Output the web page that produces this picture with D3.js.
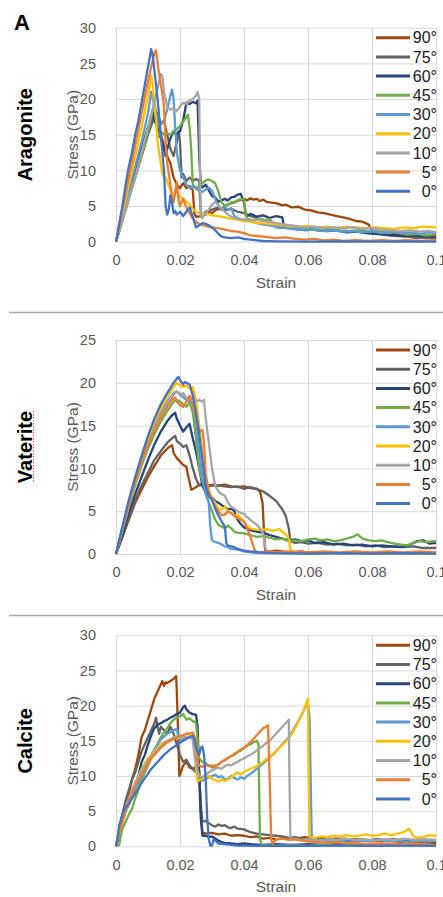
<!DOCTYPE html>
<html>
<head>
<meta charset="utf-8">
<script src="https://cdn.jsdelivr.net/npm/d3@7"></script>
<style>
  body { margin: 0; background: #fff; }
  svg { display: block; font-family: "Liberation Sans", Arial, sans-serif; }
</style>
</head>
<body>
<svg width="443" height="897"></svg>
<script>
// legend order, top to bottom (also draw order: 90° first, 0° last)
const angles = ["90°", "75°", "60°", "45°", "30°", "20°", "10°", "5°", "0°"];
const colors = ["#9E480E", "#636363", "#264478", "#70AD47", "#5B9BD5", "#FFC000", "#A5A5A5", "#ED7D31", "#4472C4"];
const xTicks = [0, 0.02, 0.04, 0.06, 0.08, 0.1];
const xTickLabels = ["0", "0.02", "0.04", "0.06", "0.08", "0.1"];
const panelNames = ["Aragonite", "Vaterite", "Calcite"];
const panelYMax = [30, 25, 30];

// ---- Aragonite ----
const ara90 = [[0,0],[0.002,3],[0.004,6.5],[0.006,9.5],[0.008,13],[0.010,16],[0.012,18],[0.013,17],[0.014,15],[0.015,13.5],[0.016,12],[0.017,11],[0.018,9],[0.019,8],[0.020,7.5],[0.021,8.2],[0.022,7.5],[0.023,7.8],[0.024,7.2],[0.0245,4],[0.025,3.5],[0.027,3.6],[0.028,3.8],[0.029,4.2],[0.030,4],[0.031,4.4],[0.032,4.6],[0.033,4.5],[0.034,5],[0.035,5.2],[0.036,5.4],[0.037,5.5],[0.038,5.7],[0.039,5.9],[0.040,6],[0.041,5.8],[0.042,6.1],[0.043,5.9],[0.044,6],[0.045,5.7],[0.046,5.9],[0.047,5.6],[0.048,5.5],[0.050,5.4],[0.052,5.1],[0.053,5.2],[0.055,4.8],[0.057,4.9],[0.059,4.5],[0.061,4.4],[0.063,4.1],[0.065,4.0],[0.067,3.8],[0.069,3.6],[0.071,3.4],[0.073,3.2],[0.075,2.9],[0.077,2.8],[0.078,2.6],[0.079,2.4],[0.080,1.6],[0.081,1.3],[0.083,1.2],[0.085,1.0],[0.087,1.1],[0.089,0.9],[0.091,0.8],[0.093,0.6],[0.095,0.7],[0.097,0.5],[0.1,0.6]];
const ara75 = [[0,0],[0.002,3],[0.004,6],[0.006,9],[0.008,12],[0.010,15],[0.012,17.5],[0.013,18],[0.014,16.5],[0.015,17],[0.016,15],[0.017,13],[0.018,12],[0.019,14],[0.0195,15.5],[0.020,14],[0.0205,9],[0.021,9.5],[0.022,8.5],[0.023,9],[0.024,8.5],[0.025,8.8],[0.026,8.6],[0.0265,4],[0.027,3.8],[0.028,4.2],[0.030,4.5],[0.032,4.8],[0.034,4.4],[0.036,4.6],[0.038,4.2],[0.040,4],[0.042,3.6],[0.044,3.3],[0.046,3],[0.048,2.8],[0.050,2.5],[0.052,2.3],[0.055,2],[0.058,1.8],[0.061,1.9],[0.064,1.6],[0.067,1.7],[0.070,1.5],[0.073,1.4],[0.076,1.5],[0.079,1.2],[0.082,1.1],[0.085,0.9],[0.088,0.8],[0.091,0.7],[0.094,0.5],[0.097,0.6],[0.1,0.4]];
const ara60 = [[0,0],[0.002,3.5],[0.004,7],[0.006,10],[0.008,13],[0.010,16],[0.0115,18.5],[0.012,17],[0.013,16],[0.014,14.5],[0.015,13],[0.0155,12],[0.016,13],[0.017,14.5],[0.018,15.5],[0.019,15],[0.020,15.5],[0.021,17],[0.022,19.5],[0.023,19.3],[0.024,19.6],[0.025,19.4],[0.0255,19.8],[0.026,12],[0.0265,8],[0.027,7.6],[0.028,8],[0.029,7.2],[0.030,6.4],[0.031,6.2],[0.032,5.6],[0.033,5.8],[0.034,6],[0.035,5.8],[0.036,6.2],[0.037,6.3],[0.038,6.6],[0.039,6.7],[0.040,5.5],[0.0405,4],[0.041,3.6],[0.042,3.9],[0.044,3.5],[0.046,3.7],[0.048,3.3],[0.050,3.6],[0.052,3.4],[0.0525,2],[0.054,1.9],[0.057,1.7],[0.060,1.8],[0.063,1.6],[0.066,1.5],[0.069,1.6],[0.072,1.3],[0.075,1.4],[0.078,1.2],[0.081,1.1],[0.084,1.0],[0.087,0.9],[0.090,0.8],[0.093,0.9],[0.096,0.7],[0.1,0.8]];
const ara45 = [[0,0],[0.002,3],[0.004,6],[0.006,9],[0.008,12],[0.010,15.5],[0.012,19.5],[0.0125,18],[0.013,14.7],[0.014,15.5],[0.015,15],[0.016,15.2],[0.017,15],[0.018,15.5],[0.019,15.8],[0.020,16.2],[0.021,16.8],[0.022,17.5],[0.0225,17.8],[0.023,16],[0.0235,13],[0.024,8],[0.025,7.5],[0.026,7.8],[0.027,8.2],[0.028,8.6],[0.029,8.7],[0.030,8.5],[0.031,8.2],[0.032,7],[0.033,5.5],[0.034,5],[0.035,5.2],[0.036,5.5],[0.037,5.6],[0.038,5.8],[0.039,6],[0.040,6],[0.0405,4],[0.041,3.2],[0.043,3],[0.045,3.2],[0.047,3],[0.048,3.2],[0.049,2.5],[0.050,2],[0.052,1.9],[0.055,2.1],[0.058,1.8],[0.061,2],[0.064,1.7],[0.067,1.9],[0.070,1.6],[0.073,1.5],[0.076,1.6],[0.079,1.4],[0.082,1.5],[0.085,1.2],[0.088,1.4],[0.091,1],[0.094,1.1],[0.097,0.9],[0.1,1]];
const ara30 = [[0,0],[0.002,3.5],[0.004,7],[0.006,10.5],[0.008,14],[0.010,18],[0.011,21],[0.012,19],[0.013,17],[0.0135,16],[0.014,16.5],[0.015,17],[0.016,18.5],[0.017,20.5],[0.0175,21.3],[0.018,20],[0.0185,16],[0.019,12.5],[0.020,10],[0.021,9],[0.022,8],[0.023,7.5],[0.024,7.8],[0.025,7.4],[0.026,7.2],[0.027,7],[0.028,7.3],[0.029,7.6],[0.030,7.2],[0.031,6],[0.032,5],[0.033,4.6],[0.034,4.8],[0.035,4.5],[0.036,4.7],[0.037,3.6],[0.038,3.3],[0.040,3],[0.042,2.9],[0.044,2.6],[0.046,2.4],[0.048,2.3],[0.050,2.1],[0.053,1.9],[0.056,1.8],[0.059,1.6],[0.062,1.7],[0.065,1.5],[0.068,1.6],[0.071,1.4],[0.074,1.5],[0.077,1.3],[0.080,1.5],[0.083,1.2],[0.086,1.4],[0.089,1.2],[0.092,1.3],[0.095,1.1],[0.098,1.3],[0.1,1.2]];
const ara20 = [[0,0],[0.002,4],[0.004,8],[0.006,12],[0.008,16],[0.010,20.5],[0.011,23.3],[0.0115,22],[0.012,19],[0.0125,17],[0.013,14],[0.0135,12.5],[0.014,11],[0.0145,9.5],[0.016,8.5],[0.017,7.3],[0.018,6.5],[0.019,7],[0.020,6.3],[0.021,6],[0.022,5.6],[0.023,5.2],[0.024,4.6],[0.025,4.2],[0.026,4],[0.027,3.8],[0.028,4],[0.030,3.7],[0.032,3.6],[0.034,3.4],[0.036,3.2],[0.038,3.1],[0.040,2.9],[0.042,2.8],[0.045,2.6],[0.048,2.5],[0.051,2.4],[0.054,2.2],[0.057,2.1],[0.060,2.2],[0.063,2],[0.066,2.1],[0.069,1.9],[0.072,2.1],[0.075,2],[0.078,1.9],[0.081,2],[0.084,1.9],[0.087,1.8],[0.090,2],[0.093,1.9],[0.096,2.1],[0.1,2]];
const ara10 = [[0,0],[0.002,3],[0.004,6],[0.006,9],[0.008,12.5],[0.010,16],[0.012,19.5],[0.013,21.5],[0.014,23.5],[0.0145,23.2],[0.015,21],[0.016,19],[0.017,18.5],[0.018,18.7],[0.019,18.3],[0.020,19],[0.021,19.5],[0.022,19.3],[0.023,19.8],[0.024,20],[0.025,20.5],[0.0255,21],[0.026,20],[0.0262,12],[0.0265,3.5],[0.027,3.3],[0.028,4],[0.029,4.5],[0.030,5.2],[0.031,5.6],[0.032,5.2],[0.033,4.6],[0.034,4.2],[0.035,3.8],[0.036,3.5],[0.038,3.2],[0.040,3.1],[0.042,3],[0.044,3.1],[0.046,2.9],[0.048,2.8],[0.050,2.6],[0.053,2.4],[0.056,2.2],[0.059,2],[0.062,2.1],[0.065,1.9],[0.068,2],[0.071,1.9],[0.074,2],[0.077,1.8],[0.080,1.9],[0.083,1.7],[0.086,1.6],[0.089,1.5],[0.092,1.6],[0.095,1.4],[0.098,1.5],[0.1,1.3]];
const ara5 = [[0,0],[0.002,4.5],[0.004,9],[0.006,13.5],[0.008,18],[0.010,22.5],[0.011,24.5],[0.012,26.5],[0.0125,26.8],[0.013,25],[0.014,22],[0.0145,20.7],[0.015,19],[0.0155,14],[0.016,11],[0.017,8],[0.0175,6],[0.018,5.5],[0.0185,7],[0.019,8.3],[0.0195,6],[0.020,5],[0.021,6],[0.022,4.8],[0.023,4],[0.024,3.2],[0.025,2.8],[0.026,2.5],[0.028,2.2],[0.030,2],[0.032,1.9],[0.034,1.7],[0.036,1.5],[0.038,1.4],[0.040,1.2],[0.042,0.9],[0.044,0.8],[0.046,0.7],[0.048,0.6],[0.050,0.5],[0.053,0.6],[0.056,0.4],[0.059,0.3],[0.062,0.4],[0.065,0.2],[0.068,0.3],[0.071,0.1],[0.075,0.2],[0.079,0.1],[0.083,0.2],[0.087,0.1],[0.091,0.2],[0.095,0.1],[0.1,0.2]];
const ara0 = [[0,0],[0.001,2.5],[0.002,5],[0.003,8],[0.004,10.5],[0.005,12.5],[0.006,15],[0.007,17],[0.008,19.5],[0.009,22],[0.010,24.5],[0.011,27],[0.0115,26],[0.012,24],[0.013,20],[0.014,15],[0.015,10],[0.0155,5],[0.016,3.8],[0.0165,4.5],[0.017,6.5],[0.0175,5.5],[0.018,4],[0.0185,4.3],[0.019,3.8],[0.020,4.2],[0.021,3.6],[0.022,4.2],[0.023,4.8],[0.024,3.5],[0.025,2],[0.026,2.3],[0.027,2.6],[0.028,2.5],[0.029,2.3],[0.030,2],[0.031,1.6],[0.032,1.1],[0.033,0.7],[0.034,0.6],[0.036,0.5],[0.038,0.6],[0.040,0.4],[0.042,0.3],[0.044,0.2],[0.046,0.1],[0.05,0.05],[0.06,0],[0.07,0.05],[0.08,0],[0.09,0.05],[0.1,0]];

// ---- Vaterite ----
const vat90 = [[0,0],[0.002,2],[0.004,4],[0.006,6],[0.008,7.5],[0.010,9],[0.012,10.3],[0.014,11.5],[0.016,12.3],[0.017,12.6],[0.0175,12.7],[0.018,11.8],[0.019,11.2],[0.020,10.8],[0.021,10.4],[0.022,10.2],[0.0225,9.2],[0.023,8.4],[0.0235,7.5],[0.024,7.6],[0.025,7.8],[0.026,8.1],[0.027,8],[0.028,8.2],[0.029,7.9],[0.030,8.1],[0.032,8],[0.034,8.1],[0.036,7.9],[0.038,7.8],[0.040,7.9],[0.042,7.7],[0.044,7.6],[0.045,7.3],[0.0458,6],[0.0462,3],[0.0466,0.4],[0.048,0.3],[0.050,0.4],[0.052,0.3],[0.055,0.2],[0.058,0.3],[0.061,0.1],[0.065,0.2],[0.07,0.1],[0.075,0.1],[0.08,0.05],[0.085,0.1],[0.09,0.05],[0.095,0.1],[0.1,0.05]];
const vat75 = [[0,0],[0.002,2],[0.004,4.2],[0.006,6.3],[0.008,8],[0.010,9.5],[0.012,11],[0.014,12],[0.016,13],[0.0175,13.5],[0.0185,13.8],[0.019,13.2],[0.020,12.9],[0.021,12.5],[0.022,12.7],[0.023,11.5],[0.024,10],[0.025,8.8],[0.026,8],[0.027,8.3],[0.028,8.1],[0.030,8],[0.032,8],[0.034,7.9],[0.036,7.8],[0.038,7.9],[0.040,7.6],[0.042,7.8],[0.044,7.6],[0.046,7.3],[0.048,6.8],[0.050,6.2],[0.052,5.2],[0.053,4.5],[0.054,3],[0.0545,1.5],[0.056,1.3],[0.058,1.4],[0.060,1.2],[0.063,1.3],[0.066,1.1],[0.069,1.2],[0.072,1],[0.075,1.1],[0.078,0.9],[0.081,1],[0.084,0.8],[0.087,0.9],[0.090,0.8],[0.093,0.9],[0.096,0.7],[0.1,0.7]];
const vat60 = [[0,0],[0.002,2.3],[0.004,4.8],[0.006,7],[0.008,9],[0.010,11],[0.012,12.8],[0.014,14.3],[0.016,15.5],[0.0175,16.2],[0.0185,16.5],[0.019,15.8],[0.020,15],[0.021,14.3],[0.022,14.8],[0.023,15.2],[0.024,13.5],[0.025,12],[0.026,10],[0.027,8],[0.028,7.2],[0.029,6.8],[0.030,6.6],[0.031,6.2],[0.032,6],[0.033,5.7],[0.034,5.5],[0.035,5.2],[0.036,5.3],[0.037,5],[0.038,4],[0.039,3.5],[0.040,3.1],[0.042,2.8],[0.044,2.6],[0.046,2.5],[0.048,2.2],[0.050,2],[0.052,1.8],[0.054,1.6],[0.056,1.7],[0.058,1.5],[0.060,1.6],[0.062,1.3],[0.065,1.4],[0.068,1.1],[0.071,1.2],[0.074,1],[0.077,1.1],[0.080,0.9],[0.083,1],[0.086,0.9],[0.089,0.8],[0.092,1.1],[0.094,1.5],[0.096,1.6],[0.098,1.2],[0.1,1.3]];
const vat45 = [[0,0],[0.002,2.8],[0.004,5.5],[0.006,8],[0.008,10.3],[0.010,12.3],[0.012,14],[0.014,15.5],[0.016,16.7],[0.018,17.8],[0.019,18],[0.020,17.8],[0.021,17.5],[0.022,17.2],[0.023,17.7],[0.024,16.5],[0.025,13.5],[0.026,10],[0.027,8.5],[0.028,7.5],[0.029,6],[0.030,5],[0.031,4],[0.032,3.4],[0.033,3.2],[0.034,3],[0.035,3.3],[0.036,3],[0.037,2.6],[0.038,2.5],[0.040,2.4],[0.042,2.2],[0.044,2],[0.046,2.1],[0.048,1.9],[0.050,1.7],[0.052,1.8],[0.054,1.5],[0.056,1.6],[0.058,1.5],[0.060,1.7],[0.062,1.8],[0.064,1.6],[0.066,1.7],[0.068,1.5],[0.070,1.6],[0.072,1.8],[0.074,2],[0.0755,2.3],[0.077,1.8],[0.079,1.6],[0.081,1.5],[0.083,1.6],[0.085,1.4],[0.087,1.2],[0.089,1.1],[0.091,1],[0.093,1.3],[0.095,1.5],[0.097,1.4],[0.1,1.5]];
const vat30 = [[0,0],[0.002,3],[0.004,6],[0.006,8.5],[0.008,11],[0.010,13],[0.012,15],[0.014,16.5],[0.016,17.8],[0.018,18.8],[0.019,19],[0.020,18.7],[0.021,18.3],[0.022,18],[0.023,17.8],[0.024,17.5],[0.025,15.5],[0.026,12],[0.027,9],[0.028,7],[0.029,6],[0.0295,3],[0.030,1.6],[0.031,1.4],[0.032,1.3],[0.033,1.1],[0.034,0.9],[0.035,0.8],[0.036,0.6],[0.038,0.5],[0.040,0.3],[0.042,0.2],[0.045,0.1],[0.05,0.1],[0.06,0.05],[0.07,0.1],[0.08,0.05],[0.09,0.1],[0.1,0.05]];
const vat20 = [[0,0],[0.002,3],[0.004,6],[0.006,8.8],[0.008,11.3],[0.010,13.5],[0.012,15.5],[0.014,17],[0.016,18.3],[0.018,19.5],[0.019,20],[0.020,19.7],[0.021,19.5],[0.022,19.7],[0.023,19.3],[0.024,19.5],[0.025,18],[0.026,15],[0.027,12],[0.028,9],[0.029,7.5],[0.030,6.5],[0.031,6],[0.032,5.3],[0.033,5.2],[0.034,5.5],[0.035,5],[0.036,4.8],[0.037,4.5],[0.038,4.6],[0.039,4.2],[0.040,3.8],[0.041,3.3],[0.042,3],[0.043,2.9],[0.045,2.8],[0.047,2.9],[0.049,2.7],[0.051,2.9],[0.052,2.6],[0.053,2.3],[0.054,1.8],[0.0545,0.5],[0.055,0.2],[0.058,0.1],[0.062,0.1],[0.066,0.05],[0.07,0.1],[0.075,0.05],[0.08,0.1],[0.085,0.05],[0.09,0.1],[0.095,0.05],[0.1,0.1]];
const vat10 = [[0,0],[0.002,2.8],[0.004,5.6],[0.006,8.2],[0.008,10.6],[0.010,12.8],[0.012,14.8],[0.014,16.3],[0.016,17.6],[0.018,18.6],[0.019,19],[0.020,18.5],[0.021,18.8],[0.022,18.2],[0.023,18],[0.024,18.3],[0.025,17.8],[0.026,18],[0.027,17.8],[0.0275,18],[0.028,16],[0.029,13],[0.030,10],[0.031,8],[0.032,7.3],[0.033,7],[0.034,6.8],[0.035,6],[0.036,5.5],[0.037,5.3],[0.038,5],[0.039,4.8],[0.040,4.7],[0.041,4.3],[0.042,4],[0.043,3.7],[0.044,3.4],[0.045,3],[0.046,2.4],[0.0465,1],[0.047,0.3],[0.05,0.2],[0.055,0.1],[0.06,0.1],[0.065,0.05],[0.07,0.1],[0.08,0.05],[0.09,0.1],[0.1,0.05]];
const vat5 = [[0,0],[0.002,3],[0.004,5.8],[0.006,8.5],[0.008,10.8],[0.010,12.8],[0.012,14.5],[0.014,16],[0.016,17.2],[0.0175,18],[0.0185,18.3],[0.019,17.8],[0.020,17.4],[0.021,17.2],[0.022,17.8],[0.023,18.5],[0.024,17.5],[0.025,16],[0.026,14.2],[0.027,14.5],[0.0275,13],[0.028,9.5],[0.029,7.2],[0.030,6.5],[0.031,5.5],[0.032,5],[0.033,4.5],[0.034,4.6],[0.035,5],[0.036,4.8],[0.037,4.4],[0.038,4.2],[0.039,4],[0.040,3.8],[0.041,3],[0.042,2],[0.043,0.8],[0.0435,0.3],[0.045,0.2],[0.048,0.3],[0.051,0.2],[0.055,0.3],[0.06,0.2],[0.065,0.3],[0.07,0.2],[0.075,0.3],[0.08,0.2],[0.085,0.3],[0.09,0.2],[0.095,0.3],[0.1,0.2]];
const vat0 = [[0,0],[0.002,3.2],[0.004,6.3],[0.006,9],[0.008,11.5],[0.010,13.8],[0.012,15.8],[0.014,17.5],[0.016,18.8],[0.018,20],[0.0195,20.7],[0.020,20.3],[0.021,19.8],[0.0215,20.1],[0.022,20],[0.023,19.8],[0.024,18.5],[0.025,16.5],[0.026,14],[0.027,11],[0.028,8],[0.029,6.8],[0.030,6.3],[0.031,5.3],[0.032,4.5],[0.033,3.8],[0.034,3.2],[0.0345,1.2],[0.035,1],[0.036,0.9],[0.037,0.8],[0.038,0.6],[0.040,0.4],[0.042,0.3],[0.045,0.2],[0.05,0.1],[0.06,0.05],[0.07,0.1],[0.08,0.05],[0.09,0.1],[0.1,0.05]];

// ---- Calcite ----
const cal90 = [[0,0],[0.001,2],[0.002,4.5],[0.003,6],[0.004,7.5],[0.005,9.5],[0.006,11],[0.007,13],[0.008,15.5],[0.009,16.5],[0.010,18],[0.011,19.5],[0.012,21],[0.013,22],[0.014,23],[0.0145,23.5],[0.015,22.8],[0.0155,23.3],[0.016,23.2],[0.017,23.5],[0.018,23.8],[0.0188,24.2],[0.019,22],[0.0195,15],[0.0198,10],[0.020,10.2],[0.021,11.5],[0.022,12],[0.023,11.2],[0.024,11],[0.025,11.3],[0.026,10.8],[0.0265,5],[0.027,2],[0.028,1.8],[0.030,1.9],[0.032,1.7],[0.034,1.8],[0.036,1.5],[0.038,1.6],[0.040,1.5],[0.042,1.3],[0.044,1.4],[0.046,1.1],[0.048,1.2],[0.050,1],[0.053,1.2],[0.056,1.1],[0.059,1.3],[0.062,1.1],[0.065,1.2],[0.068,1],[0.071,1.1],[0.074,0.9],[0.077,1],[0.080,0.8],[0.083,0.7],[0.086,0.8],[0.089,0.6],[0.092,0.5],[0.095,0.6],[0.098,0.4],[0.1,0.5]];
const cal75 = [[0,0],[0.001,2.5],[0.002,4.5],[0.003,6.5],[0.004,8],[0.005,9.5],[0.006,10.5],[0.007,12],[0.008,13.5],[0.009,14.5],[0.010,15.5],[0.011,16.5],[0.012,17.5],[0.0125,18.3],[0.013,17],[0.0135,16],[0.014,17],[0.015,16.5],[0.016,16],[0.017,17],[0.018,16],[0.019,14.5],[0.020,13],[0.021,12],[0.022,12.3],[0.023,11.5],[0.024,11],[0.025,10.5],[0.026,10.3],[0.0265,6],[0.027,3.5],[0.028,3.6],[0.029,3.3],[0.030,3],[0.031,2.8],[0.032,3.1],[0.033,2.9],[0.034,3],[0.035,2.7],[0.036,2.6],[0.037,2.8],[0.038,2.5],[0.040,2.4],[0.042,2],[0.044,1.8],[0.046,1.7],[0.048,1.6],[0.050,1.5],[0.052,1.4],[0.054,1.2],[0.056,1.3],[0.058,1.1],[0.060,1],[0.063,1.2],[0.066,1],[0.069,1.1],[0.072,0.9],[0.075,1],[0.078,0.8],[0.081,1],[0.084,0.9],[0.087,1],[0.090,0.8],[0.093,0.9],[0.096,0.7],[0.1,0.8]];
const cal60 = [[0,0],[0.001,2],[0.002,3.5],[0.003,5],[0.004,6],[0.005,7.5],[0.006,8.5],[0.007,10],[0.008,12],[0.009,13],[0.010,14.5],[0.011,15.8],[0.012,16.8],[0.013,17.3],[0.014,17.5],[0.015,17.8],[0.016,18],[0.017,18.3],[0.018,18.5],[0.019,18.8],[0.020,19],[0.021,19.8],[0.0215,20],[0.022,19.5],[0.023,19],[0.024,18.8],[0.025,18.7],[0.0255,17],[0.026,10],[0.0265,4],[0.027,1.5],[0.028,1.5],[0.029,1.3],[0.030,1.4],[0.031,1.1],[0.032,0.8],[0.033,0.6],[0.034,0.5],[0.036,0.4],[0.038,0.3],[0.040,0.4],[0.042,0.3],[0.045,0.2],[0.05,0.3],[0.055,0.2],[0.06,0.3],[0.065,0.2],[0.07,0.3],[0.075,0.2],[0.08,0.3],[0.085,0.2],[0.09,0.3],[0.095,0.2],[0.1,0.3]];
const cal45 = [[0,0],[0.001,0.2],[0.0015,1.5],[0.002,2.5],[0.003,3.5],[0.004,4.5],[0.005,5.3],[0.006,6.8],[0.007,8],[0.008,9.5],[0.009,10.5],[0.010,11.5],[0.011,12.5],[0.012,13.5],[0.013,14.5],[0.014,15.5],[0.015,16.2],[0.016,16.8],[0.017,17.5],[0.018,18],[0.019,18.3],[0.020,18.5],[0.021,18.8],[0.022,18],[0.023,18.2],[0.024,17.8],[0.025,17.6],[0.0255,15],[0.026,12.5],[0.027,12],[0.028,11.8],[0.029,11.5],[0.030,11.2],[0.031,11.5],[0.032,11.6],[0.033,12],[0.034,12.2],[0.035,12.5],[0.036,12.8],[0.037,13],[0.038,13.4],[0.039,13.6],[0.040,14],[0.041,14.3],[0.042,14.5],[0.043,14.8],[0.044,15],[0.0445,14.5],[0.045,1],[0.0455,0.2],[0.047,0.2],[0.05,0.1],[0.055,0.2],[0.06,0.1],[0.065,0.2],[0.07,0.1],[0.075,0.2],[0.08,0.1],[0.085,0.2],[0.09,0.1],[0.095,0.2],[0.1,0.1]];
const cal30 = [[0,0],[0.001,2],[0.002,3.5],[0.003,5],[0.004,6],[0.005,7],[0.006,8],[0.007,9],[0.008,10],[0.009,11],[0.010,12],[0.011,13],[0.012,13.8],[0.013,14.5],[0.014,15.2],[0.015,15.6],[0.016,16],[0.017,16.2],[0.018,16.5],[0.019,16.7],[0.0195,15.5],[0.020,15],[0.021,15.3],[0.022,15.5],[0.023,15.6],[0.024,15.7],[0.025,14],[0.0255,11],[0.026,9.5],[0.027,9.3],[0.028,9.6],[0.029,9.8],[0.030,10],[0.031,10.2],[0.032,9.8],[0.033,10],[0.034,9.5],[0.035,9.6],[0.036,10],[0.037,9.7],[0.038,9.5],[0.039,9.8],[0.040,9.6],[0.041,10],[0.042,10.3],[0.044,11],[0.046,11.8],[0.048,12.6],[0.050,13.5],[0.052,14.5],[0.054,15.5],[0.056,17],[0.058,18.7],[0.060,20.5],[0.0605,18],[0.061,5],[0.0612,1],[0.062,0.8],[0.064,0.9],[0.067,0.7],[0.070,0.8],[0.073,0.6],[0.076,0.8],[0.079,0.7],[0.082,0.9],[0.085,0.7],[0.088,0.8],[0.091,0.6],[0.094,0.8],[0.097,0.7],[0.1,0.8]];
const cal20 = [[0,0],[0.001,2],[0.002,3.5],[0.003,5],[0.004,6.5],[0.005,7.8],[0.006,9],[0.007,10],[0.008,11],[0.009,11.8],[0.010,12.5],[0.011,13],[0.012,13.5],[0.013,14],[0.014,14.5],[0.015,14.8],[0.016,15],[0.017,15.2],[0.018,15.3],[0.019,15.5],[0.020,15.4],[0.021,15.6],[0.022,15.5],[0.023,15.7],[0.024,15.5],[0.0245,14],[0.025,11],[0.0255,9.2],[0.026,9.4],[0.027,9.6],[0.028,9.8],[0.029,10],[0.030,9.6],[0.031,9.4],[0.032,9.2],[0.033,9.5],[0.034,9.3],[0.035,9.5],[0.036,9.8],[0.037,10.2],[0.038,10.5],[0.039,10.2],[0.040,10.6],[0.042,11],[0.044,11.4],[0.046,12],[0.048,12.7],[0.050,13.5],[0.052,14.4],[0.054,15.3],[0.056,16.8],[0.058,18.6],[0.060,21],[0.0602,10],[0.0605,1.3],[0.062,1.2],[0.064,1.4],[0.066,1.3],[0.068,1.5],[0.070,1.4],[0.072,1.6],[0.074,1.4],[0.076,1.5],[0.078,1.7],[0.080,1.5],[0.082,1.6],[0.084,1.8],[0.086,1.6],[0.088,1.8],[0.090,2],[0.0915,2.5],[0.092,2.2],[0.093,1.4],[0.094,1.2],[0.096,1.3],[0.098,1.6],[0.1,1.5]];
const cal10 = [[0,0],[0.001,2.5],[0.002,4],[0.003,5.5],[0.004,6.8],[0.005,8],[0.006,9],[0.007,10],[0.008,10.8],[0.009,11.5],[0.010,12.2],[0.011,12.8],[0.012,13.3],[0.013,13.8],[0.014,14.2],[0.015,14.6],[0.016,15],[0.017,15.2],[0.018,15.5],[0.019,15.6],[0.020,15.5],[0.021,15.4],[0.022,15.6],[0.023,15.5],[0.024,15.2],[0.0245,13],[0.025,11.5],[0.026,10],[0.027,9.8],[0.028,10.2],[0.029,10.5],[0.030,10.8],[0.031,11],[0.032,11.2],[0.033,11],[0.034,11.4],[0.035,11.6],[0.036,11.5],[0.037,11.8],[0.038,12],[0.039,12.3],[0.040,12.5],[0.041,12.8],[0.042,13],[0.043,13.3],[0.044,13.6],[0.045,14],[0.046,14.3],[0.047,14.7],[0.048,15],[0.049,15.5],[0.050,16],[0.051,16.5],[0.052,17],[0.053,17.5],[0.054,18],[0.0542,10],[0.0545,1],[0.056,1.1],[0.058,0.9],[0.060,1],[0.063,0.8],[0.066,1],[0.069,0.9],[0.072,1.1],[0.075,0.9],[0.078,1],[0.081,0.8],[0.084,1],[0.087,0.9],[0.090,1.1],[0.093,0.9],[0.096,1],[0.1,0.9]];
const cal5 = [[0,0],[0.001,2],[0.002,3.5],[0.003,5],[0.004,6.3],[0.005,7.5],[0.006,8.5],[0.007,9.5],[0.008,10.3],[0.009,11],[0.010,11.8],[0.011,12.5],[0.012,13],[0.013,13.5],[0.014,14],[0.015,14.4],[0.016,14.8],[0.017,15],[0.018,15.3],[0.019,15.5],[0.020,15.7],[0.021,15.8],[0.022,16],[0.023,16],[0.024,16.2],[0.025,15],[0.0255,12],[0.026,11.5],[0.027,11.3],[0.028,11.6],[0.029,11.4],[0.030,11.5],[0.031,11.3],[0.032,11.7],[0.033,12],[0.034,12.3],[0.035,12.6],[0.036,12.8],[0.037,13.2],[0.038,13.4],[0.039,13.8],[0.040,14],[0.041,14.4],[0.042,14.8],[0.043,15.3],[0.044,15.8],[0.045,16.3],[0.046,16.8],[0.047,17],[0.0475,17.2],[0.048,10],[0.0485,1],[0.049,0.3],[0.050,1],[0.052,1.1],[0.054,0.9],[0.056,1],[0.058,0.8],[0.060,0.7],[0.063,0.6],[0.066,0.5],[0.069,0.6],[0.072,0.4],[0.075,0.5],[0.078,0.3],[0.081,0.4],[0.084,0.3],[0.087,0.4],[0.090,0.3],[0.093,0.4],[0.096,0.3],[0.1,0.2]];
const cal0 = [[0,0],[0.0005,1],[0.001,3],[0.002,4.5],[0.003,5.5],[0.004,6],[0.005,6.8],[0.006,7.5],[0.007,8.2],[0.008,9],[0.009,9.7],[0.010,10.3],[0.011,11],[0.012,11.5],[0.013,12],[0.014,12.5],[0.015,13],[0.016,13.4],[0.017,13.8],[0.018,14.1],[0.019,14.4],[0.020,14.7],[0.021,15],[0.022,15.3],[0.023,15.5],[0.024,15.7],[0.0245,15.2],[0.025,14],[0.026,13],[0.0265,14],[0.027,14.2],[0.0275,13],[0.028,10],[0.0285,4],[0.029,1],[0.0295,0.1],[0.030,0.1],[0.0305,1],[0.031,0.8],[0.032,0.4],[0.034,0.3],[0.036,0.2],[0.038,0.1],[0.04,0.1],[0.045,0.05],[0.05,0.1],[0.06,0.05],[0.07,0.1],[0.08,0.05],[0.09,0.1],[0.1,0.05]];

const aragonite = [ara90, ara75, ara60, ara45, ara30, ara20, ara10, ara5, ara0];
const vaterite = [vat90, vat75, vat60, vat45, vat30, vat20, vat10, vat5, vat0];
const calcite = [cal90, cal75, cal60, cal45, cal30, cal20, cal10, cal5, cal0];
const panelSeries = [aragonite, vaterite, calcite];

const svg = d3.select("svg");
const left = 116, right = 436;
// plot top / bottom (px) for each panel
const boxes = [[27.7, 241.7], [340, 554], [635.3, 846.3]];

svg.append("text").attr("x", 14).attr("y", 30)
  .attr("font-size", 22).attr("font-weight", "bold").text("A");

// separators
[312.5, 615.5].forEach(function(yy){
  svg.append("line").attr("x1", 9).attr("x2", 443).attr("y1", yy).attr("y2", yy)
    .attr("stroke", "#a9a9a9").attr("stroke-width", 1.3);
});

panelNames.forEach(function(name, p){
  var top = boxes[p][0], bottom = boxes[p][1];
  var x = d3.scaleLinear([0, 0.1], [left, right]);
  var y = d3.scaleLinear([0, panelYMax[p]], [bottom, top]);
  var yTicks = d3.range(0, panelYMax[p] + 1, 5);

  var g = svg.append("g");

  // y grid + labels
  g.append("g")
    .attr("transform", "translate(" + left + ",0)")
    .call(d3.axisLeft(y).tickValues(yTicks).tickSize(-(right - left)).tickPadding(20))
    .call(a => a.select(".domain").remove())
    .call(a => a.selectAll(".tick line").attr("stroke", "#d9d9d9"))
    .call(a => a.selectAll(".tick text").attr("fill", "#595959")
        .attr("font-size", 14.5).attr("font-family", "Liberation Sans, Arial"));

  // x grid + labels
  g.append("g")
    .attr("transform", "translate(0," + bottom + ")")
    .call(d3.axisBottom(x).tickValues(xTicks).tickSize(-(bottom - top)).tickPadding(13)
        .tickFormat((d, i) => xTickLabels[i]))
    .call(a => a.select(".domain").remove())
    .call(a => a.selectAll(".tick line").attr("stroke", "#d9d9d9"))
    .call(a => a.selectAll(".tick text").attr("fill", "#595959")
        .attr("font-size", 14.5).attr("font-family", "Liberation Sans, Arial"));

  // axis titles
  g.append("text")
    .attr("transform", "translate(78," + ((top + bottom) / 2) + ") rotate(-90)")
    .attr("text-anchor", "middle").attr("font-size", 15.5).attr("fill", "#595959")
    .text("Stress (GPa)");
  g.append("text")
    .attr("x", (left + right) / 2).attr("y", bottom + 46)
    .attr("text-anchor", "middle").attr("font-size", 15.5).attr("fill", "#595959")
    .text("Strain");

  // material name
  var cy = (top + bottom) / 2;
  g.append("text")
    .attr("transform", "translate(32," + cy + ") rotate(-90)")
    .attr("text-anchor", "middle").attr("font-size", 20).attr("font-weight", "bold")
    .attr("fill", "#000").text(name);
  if (name == "Vaterite") {
    g.append("line").attr("x1", 33.5).attr("x2", 33.5)
      .attr("y1", cy - 36).attr("y2", cy + 36)
      .attr("stroke", "#e06666").attr("stroke-width", 1.2).attr("stroke-dasharray", "1.5,1.5");
  }

  // curves
  var line = d3.line().x(d => x(d[0])).y(d => y(d[1]));
  panelSeries[p].forEach(function(s, i){
    g.append("path")
      .datum(s)
      .attr("d", line)
      .attr("fill", "none")
      .attr("stroke", colors[i])
      .attr("stroke-width", 2.3)
      .attr("stroke-linejoin", "round");
  });

  // legend
  var lg = g.append("g");
  angles.forEach(function(a, i){
    var ly = top + 10 + i * 19.2;
    lg.append("line").attr("x1", 376).attr("x2", 410).attr("y1", ly).attr("y2", ly)
      .attr("stroke", colors[i]).attr("stroke-width", 3);
    lg.append("text").attr("x", 437).attr("y", ly).attr("dy", "0.36em")
      .attr("text-anchor", "end").attr("font-size", 16).attr("fill", "#1a1a1a").text(a);
  });
});
</script>
</body>
</html>
